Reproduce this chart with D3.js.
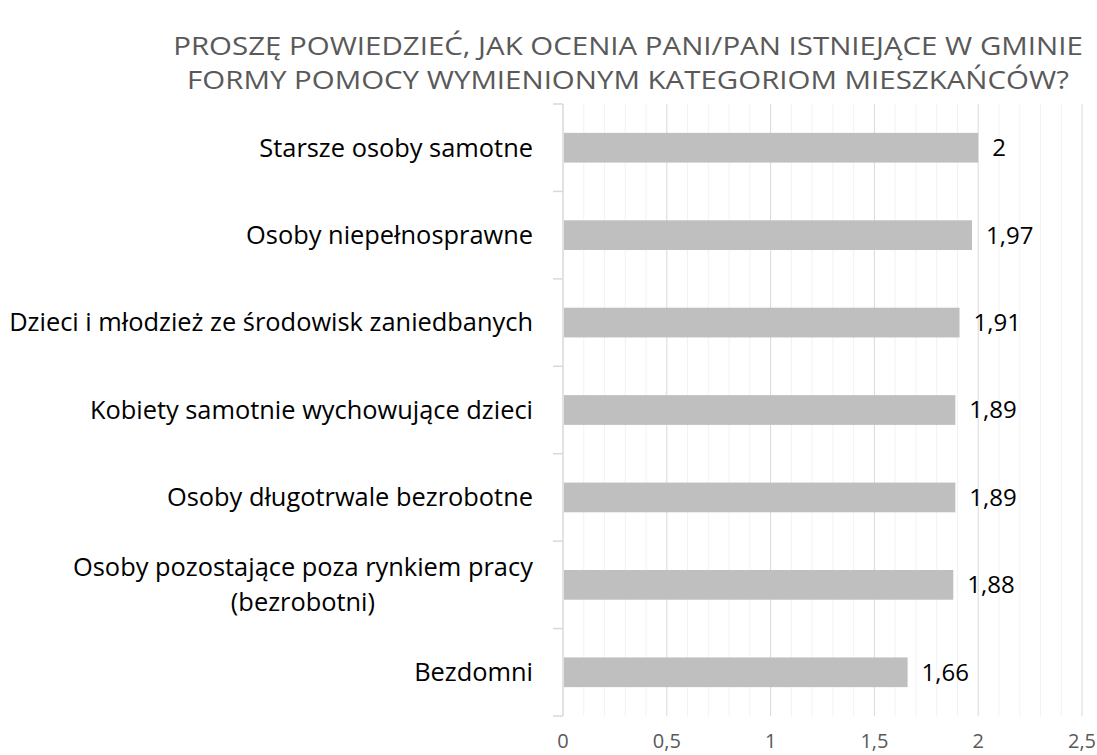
<!DOCTYPE html>
<html>
<head>
<meta charset="utf-8">
<script src="https://cdn.jsdelivr.net/npm/d3@7"></script>
<style>
  body { margin: 0; background: #fff; }
  svg { display: block; font-family: 'Open Sans', sans-serif; }
</style>
</head>
<body>
<svg id="chart" width="1097" height="755"></svg>
<script>
const titleLines = ['PROSZĘ POWIEDZIEĆ, JAK OCENIA PANI/PAN ISTNIEJĄCE W GMINIE', 'FORMY POMOCY WYMIENIONYM KATEGORIOM MIESZKAŃCÓW?']
const categories = [
  ['Starsze osoby samotne'],
  ['Osoby niepełnosprawne'],
  ['Dzieci i młodzież ze środowisk zaniedbanych'],
  ['Kobiety samotnie wychowujące dzieci'],
  ['Osoby długotrwale bezrobotne'],
  ['Osoby pozostające poza rynkiem pracy', '(bezrobotni)'],
  ['Bezdomni']
]
const values = [2, 1.97, 1.91, 1.89, 1.89, 1.88, 1.66]
const xTicks = [0, 0.5, 1, 1.5, 2, 2.5]

const margin = { top: 104, left: 563, right: 15, bottom: 39 }
const width = 1097
const height = 755
const svg = d3.select('#chart')

const x = d3.scaleLinear().domain([0, 2.5]).range([margin.left, 1082])
const y = d3.scaleBand().domain(d3.range(categories.length)).range([margin.top, height - margin.bottom]).paddingInner(0.66).paddingOuter(0.33)
const fmt = v => String(v).replace('.', ',')

// title (reference font is narrower/taller, so stretch horizontally a bit)
const titleG = svg.append('g')
titleG.selectAll('text').data(titleLines).enter().append('text')
  .attr('x', 0).attr('y', (d, i) => 46.5 + i * 34)
  .attr('dy', '0.35em')
  .attr('text-anchor', 'middle')
  .attr('font-size', 25).attr('fill', '#595959')
  .text(d => d)
const tw = titleG.select('text').node().getComputedTextLength()
titleG.attr('transform', 'translate(628,0) scale(' + (910 / tw) + ',1)')

// minor gridlines
const minor = d3.range(1, 26).map(i => i / 10).filter(v => Math.round(v * 10) % 5 !== 0)
svg.append('g').selectAll('line').data(minor).enter().append('line')
  .attr('x1', d => x(d)).attr('x2', d => x(d))
  .attr('y1', margin.top).attr('y2', height - margin.bottom)
  .attr('stroke', '#f2f2f2').attr('stroke-width', 1)

// major gridlines
svg.append('g').selectAll('line').data(xTicks.slice(1)).enter().append('line')
  .attr('x1', d => x(d)).attr('x2', d => x(d))
  .attr('y1', margin.top).attr('y2', height - margin.bottom)
  .attr('stroke', '#d9d9d9').attr('stroke-width', 1)

// y axis line + ticks
const step = (height - margin.bottom - margin.top) / categories.length
const yTickPos = d3.range(categories.length + 1).map(i => margin.top + i * step)
svg.append('line')
  .attr('x1', x(0)).attr('x2', x(0))
  .attr('y1', margin.top).attr('y2', height - margin.bottom)
  .attr('stroke', '#d9d9d9').attr('stroke-width', 1.5)
svg.append('g').selectAll('line').data(yTickPos).enter().append('line')
  .attr('x1', x(0) - 10).attr('x2', x(0))
  .attr('y1', d => d).attr('y2', d => d)
  .attr('stroke', '#d9d9d9').attr('stroke-width', 1.5)

// bars
svg.append('g').selectAll('rect').data(values).enter().append('rect')
  .attr('x', x(0) + 1)
  .attr('y', (d, i) => y(i))
  .attr('width', d => x(d) - x(0) - 1)
  .attr('height', y.bandwidth())
  .attr('fill', '#bfbfbf')

// value labels
svg.append('g').selectAll('text').data(values).enter().append('text')
  .attr('x', d => x(d) + 14)
  .attr('y', (d, i) => y(i) + y.bandwidth() / 2)
  .attr('dy', '0.35em')
  .attr('font-size', 24).attr('fill', '#000')
  .text(d => fmt(d))

// category labels
const catG = svg.append('g').selectAll('g').data(categories).enter().append('g')
  .attr('transform', (d, i) => 'translate(0,' + (y(i) + y.bandwidth() / 2) + ')')
catG.each(function (lines) {
  const g = d3.select(this)
  const lh = 35
  const t = g.append('text').attr('font-size', 25.4).attr('fill', '#000').attr('text-anchor', 'middle')
  lines.forEach((l, j) => {
    t.append('tspan').attr('x', 0).attr('y', (j - (lines.length - 1) / 2) * lh).attr('dy', '0.35em').text(l)
  })
  const w = t.node().getBBox().width
  t.attr('transform', 'translate(' + (533 - w / 2) + ',0)')
})

// x tick labels
svg.append('g').selectAll('text').data(xTicks).enter().append('text')
  .attr('x', d => x(d)).attr('y', 741)
  .attr('dy', '0.35em')
  .attr('text-anchor', 'middle')
  .attr('font-size', 20).attr('fill', '#595959')
  .text(d => fmt(d))
</script>
</body>
</html>
